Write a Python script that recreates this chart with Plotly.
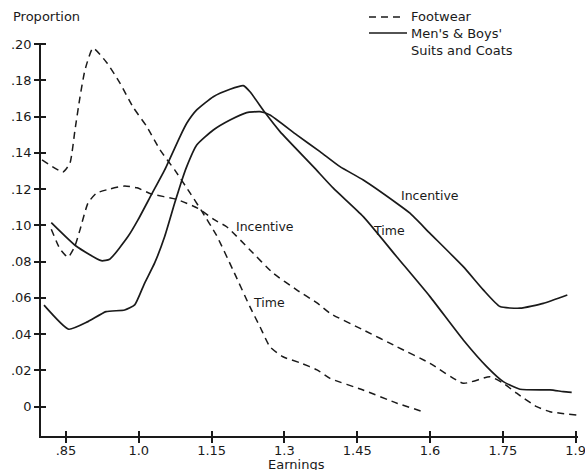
import plotly.graph_objects as go

# ---- data ----
foot_time_x = [0.8006, 0.8438, 0.8582, 0.8685, 0.8788, 0.8891, 0.9056, 0.9345, 0.9612, 0.9880,
               1.0169, 1.0437, 1.0739, 1.1055, 1.1281, 1.1596, 1.194, 1.2291, 1.2497, 1.2703,
               1.2971, 1.3321, 1.3671, 1.3939, 1.4619, 1.5319, 1.5855]
foot_time_y = [0.1361, 0.1295, 0.1344, 0.1526, 0.1708, 0.1857, 0.1978, 0.1896, 0.1785, 0.1653,
               0.1543, 0.1416, 0.1306, 0.1179, 0.1085, 0.0947, 0.0754, 0.055, 0.044, 0.033,
               0.0275, 0.0242, 0.0203, 0.0156, 0.0092, 0.0019, -0.0028]

foot_inc_x = [0.8197, 0.8376, 0.8541, 0.8679, 0.8788, 0.8953, 0.9124, 0.9406, 0.9709, 0.9963,
              1.0257, 1.0772, 1.1219, 1.1563, 1.1817, 1.2291, 1.2765, 1.3259, 1.3671, 1.3939,
              1.4625, 1.5313, 1.5999, 1.6685, 1.7235, 1.7509, 1.7785, 1.8197, 1.8471, 1.9021]
foot_inc_y = [0.0979, 0.087, 0.0824, 0.0883, 0.0975, 0.1123, 0.1177, 0.1201, 0.1217, 0.1207,
              0.1173, 0.1144, 0.1094, 0.103, 0.0991, 0.0864, 0.0737, 0.0643, 0.0572, 0.0515,
              0.0423, 0.0331, 0.0239, 0.0129, 0.0165, 0.0129, 0.0074, 0.0, -0.0028, -0.0046]

mens_time_x = [0.8197, 0.8706, 0.9227, 0.94, 0.9777, 0.9983, 1.0257, 1.0533, 1.0849, 1.0987,
               1.1193, 1.1535, 1.1879, 1.2153, 1.2291, 1.26, 1.2909, 1.3595, 1.4007, 1.4625,
               1.5313, 1.5999, 1.6685, 1.7167, 1.7509, 1.7853, 1.8471, 1.8745, 1.8918]
mens_time_y = [0.1015, 0.0886, 0.0805, 0.0813, 0.0938, 0.103, 0.1168, 0.1306, 0.149, 0.1563,
               0.1637, 0.171, 0.1751, 0.1771, 0.1737, 0.1622, 0.1517, 0.1324, 0.1205, 0.1048,
               0.0827, 0.0607, 0.0368, 0.0221, 0.0138, 0.0096, 0.0092, 0.0083, 0.0079]

mens_inc_x = [0.8047, 0.8556, 0.8953, 0.9324, 0.9709, 0.9915, 1.0121, 1.0327, 1.0533, 1.0739,
              1.0869, 1.0987, 1.1193, 1.1535, 1.1879, 1.2223, 1.2497, 1.2703, 1.3253, 1.3733,
              1.4145, 1.4625, 1.5313, 1.5587, 1.5999, 1.6685, 1.7097, 1.7441, 1.7853, 1.8333, 1.8828]
mens_inc_y = [0.056, 0.0427, 0.0469, 0.0524, 0.0533, 0.0561, 0.0682, 0.0793, 0.0938, 0.1123,
              0.1234, 0.1324, 0.1443, 0.1526, 0.1581, 0.1622, 0.1627, 0.1609, 0.1499, 0.1407,
              0.1324, 0.125, 0.1122, 0.1067, 0.0956, 0.0772, 0.0644, 0.0552, 0.0543, 0.057, 0.0616]

x_tickvals = [0.85, 1.0, 1.15, 1.3, 1.45, 1.6, 1.75, 1.9]
x_ticktext = [".85", "1.0", "1.15", "1.3", "1.45", "1.6", "1.75", "1.9"]
y_tickvals = [0, 0.02, 0.04, 0.06, 0.08, 0.10, 0.12, 0.14, 0.16, 0.18, 0.20]
y_ticktext = ["0", ".02", ".04", ".06", ".08", ".10", ".12", ".14", ".16", ".18", ".20"]

curve_labels = [("Incentive", 1.26, 0.0996), ("Time", 1.268, 0.0572),
                ("Incentive", 1.60, 0.1162), ("Time", 1.516, 0.0969)]

FONT = "DejaVu Sans, Verdana, sans-serif"
INK = "#1a1a1a"
X_RANGE = [0.7985, 1.9048]
Y_RANGE = [-0.0162, 0.2006]

fig = go.Figure()
dash_style = dict(color=INK, width=1.5, dash="7px,5px", shape="spline", smoothing=0.5)
solid_style = dict(color=INK, width=1.7, shape="spline", smoothing=0.5)

fig.add_trace(go.Scatter(x=foot_time_x, y=foot_time_y, mode="lines", line=dash_style, showlegend=False))
fig.add_trace(go.Scatter(x=foot_inc_x, y=foot_inc_y, mode="lines", line=dash_style, showlegend=False))
fig.add_trace(go.Scatter(x=mens_time_x, y=mens_time_y, mode="lines", line=solid_style, showlegend=False))
fig.add_trace(go.Scatter(x=mens_inc_x, y=mens_inc_y, mode="lines", line=solid_style, showlegend=False))
# invisible trace to activate the overlay axes (inner half of the crossing ticks)
fig.add_trace(go.Scatter(x=[X_RANGE[0]], y=[Y_RANGE[0]], xaxis="x2", yaxis="y2", mode="markers",
                         marker=dict(opacity=0), showlegend=False, hoverinfo="skip"))

axis_common = dict(showgrid=False, zeroline=False, showline=True, linecolor=INK, linewidth=1.5,
                   tickcolor=INK, tickwidth=1.5, ticklen=5, ticks="outside", automargin=False,
                   ticklabeloverflow="allow",
                   tickfont=dict(family=FONT, size=13, color=INK))

fig.update_layout(
    width=585, height=470,
    margin=dict(l=41, r=7, t=43, b=34),
    paper_bgcolor="white", plot_bgcolor="white",
    showlegend=False,
    xaxis=dict(range=X_RANGE, tickvals=x_tickvals, ticktext=x_ticktext, ticklabelstandoff=-3,
               **axis_common),
    yaxis=dict(range=Y_RANGE, tickvals=y_tickvals, ticktext=y_ticktext, **axis_common),
    xaxis2=dict(range=X_RANGE, overlaying="x", anchor="y2", side="bottom", tickvals=x_tickvals,
                showticklabels=False, showgrid=False, zeroline=False, showline=False,
                ticks="inside", ticklen=5, tickwidth=1.5, tickcolor=INK, automargin=False),
    yaxis2=dict(range=Y_RANGE, overlaying="y", anchor="x2", side="left", tickvals=y_tickvals,
                showticklabels=False, showgrid=False, zeroline=False, showline=False,
                ticks="inside", ticklen=5, tickwidth=1.5, tickcolor=INK, automargin=False),
)

annots = []
for text, xv, yv in curve_labels:
    annots.append(dict(x=xv, y=yv, xref="x", yref="y", text=text, showarrow=False,
                       font=dict(family=FONT, size=12.5, color=INK)))

# axis titles
annots.append(dict(x=-0.055, y=1.0662, xref="paper", yref="paper", text="Proportion",
                   xanchor="left", yanchor="middle", showarrow=False,
                   font=dict(family=FONT, size=13, color=INK)))
annots.append(dict(x=0.475, y=-0.072, xref="paper", yref="paper", text="Earnings",
                   xanchor="center", yanchor="middle", showarrow=False,
                   font=dict(family=FONT, size=13, color=INK)))

# legend
leg_font = dict(family=FONT, size=13, color=INK)
annots.append(dict(x=0.6853, y=1.0662, xref="paper", yref="paper", text="Footwear",
                   xanchor="left", yanchor="middle", showarrow=False, font=leg_font))
annots.append(dict(x=0.6853, y=1.0254, xref="paper", yref="paper", text="Men's &amp; Boys'",
                   xanchor="left", yanchor="middle", showarrow=False, font=leg_font))
annots.append(dict(x=0.6853, y=0.982, xref="paper", yref="paper", text="Suits and Coats",
                   xanchor="left", yanchor="middle", showarrow=False, font=leg_font))
fig.update_layout(annotations=annots)

fig.add_shape(type="line", xref="paper", yref="paper", x0=0.6108, x1=0.6685, y0=1.0662, y1=1.0662,
              line=dict(color=INK, width=1.5, dash="7px,5px"))
fig.add_shape(type="line", xref="paper", yref="paper", x0=0.6108, x1=0.6816, y0=1.0254, y1=1.0254,
              line=dict(color=INK, width=1.5))

# remove the default page margin so the 585x470 figure fills the window exactly
fig.write_html("out.html",
               config={"displayModeBar": False},
               post_script="document.body.style.margin='0';document.body.style.overflow='hidden';")
